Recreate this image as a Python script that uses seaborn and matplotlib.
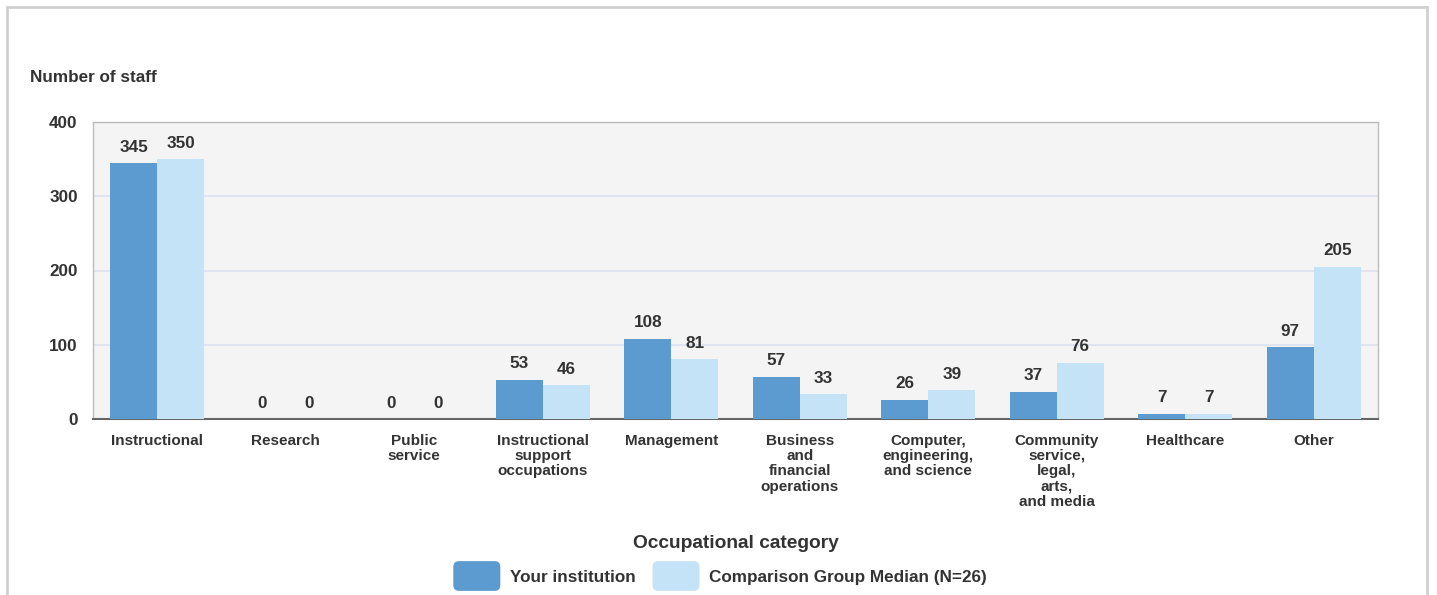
import pandas as pd
import matplotlib.pyplot as plt
import seaborn as sns
from matplotlib.patches import Rectangle, FancyBboxPatch
from matplotlib.legend_handler import HandlerPatch

categories = ["Instructional", "Research", "Public\nservice",
              "Instructional\nsupport\noccupations", "Management",
              "Business\nand\nfinancial\noperations",
              "Computer,\nengineering,\nand science",
              "Community\nservice,\nlegal,\narts,\nand media",
              "Healthcare", "Other"]
your_institution = [345, 0, 0, 53, 108, 57, 26, 37, 7, 97]
comparison_median = [350, 0, 0, 46, 81, 33, 39, 76, 7, 205]
series_names = ["Your institution", "Comparison Group Median (N=26)"]
y_ticks = [0, 100, 200, 300, 400]

dark = "#5b9bd0"
light = "#c5e3f6"
txt = "#333333"

df = pd.DataFrame({
    "category": categories * 2,
    "value": your_institution + comparison_median,
    "series": [series_names[0]] * len(categories) + [series_names[1]] * len(categories),
})

sns.set_style("white")
plt.rcParams["font.family"] = ["Liberation Sans", "DejaVu Sans"]
plt.rcParams["font.weight"] = "bold"

fig = plt.figure(figsize=(14.37, 5.95), dpi=100)
ax = fig.add_axes([93 / 1437, 1 - 419 / 595, (1378 - 93) / 1437, (419 - 122) / 595])
ax.set_facecolor("#f4f4f4")

sns.barplot(data=df, x="category", y="value", hue="series", order=categories,
            hue_order=series_names, palette=[dark, light], width=0.73,
            saturation=1, linewidth=0, ax=ax, legend=False, zorder=3)

for cont in ax.containers:
    ax.bar_label(cont, padding=6, fontsize=12.3, fontweight="bold", color=txt)

ax.set_ylim(0, 400)
ax.set_xlim(-0.5, len(categories) - 0.5)
ax.set_yticks(y_ticks)
ax.tick_params(axis="y", length=0, pad=11, labelsize=12.3, labelcolor=txt)
for lab in ax.get_yticklabels():
    lab.set_fontweight("bold")
ax.yaxis.grid(True, color="#dfe4f0", linewidth=1.5, zorder=0)
ax.set_axisbelow(True)

# category separators as major ticks, labels on minor ticks
ax.set_xticks([i - 0.5 for i in range(len(categories) + 1)])
ax.set_xticklabels([])
ax.set_xticks(range(len(categories)), minor=True)
ax.set_xticklabels(categories, minor=True, fontsize=11, fontweight="bold",
                   color=txt, linespacing=1.12, va="top")
ax.tick_params(axis="x", which="major", length=9, width=1.5, color="#666666", direction="out")
ax.tick_params(axis="x", which="minor", length=0, pad=10.5)

for s in ["left", "top", "right"]:
    ax.spines[s].set_color("#bbbbbb")
    ax.spines[s].set_linewidth(1)
ax.spines["bottom"].set_color("#666666")
ax.spines["bottom"].set_linewidth(1.5)
ax.set_xlabel("")
ax.set_ylabel("")

fig.text(30 / 1437, 1 - 77 / 595, "Number of staff", fontsize=12.3, fontweight="bold",
         color=txt, va="center", ha="left")
fig.text(735.5 / 1437, 1 - 544 / 595, "Occupational category", fontsize=13.8,
         fontweight="bold", color=txt, va="center", ha="center")

# outer frame
fig.patches.append(Rectangle((7 / 1437, -0.05), 1420 / 1437, 1.05 - 7 / 595,
                             transform=fig.transFigure, fill=False,
                             edgecolor="#d0d0d0", linewidth=2))


def rounded(legend, orig_handle, xdescent, ydescent, width, height, fontsize):
    return FancyBboxPatch((-xdescent, -ydescent), width, height,
                          boxstyle="round,pad=0,rounding_size=4")


handles = [Rectangle((0, 0), 1, 1, facecolor=dark, edgecolor="none"),
           Rectangle((0, 0), 1, 1, facecolor=light, edgecolor="none")]
fig.legend(handles, series_names, loc="center", bbox_to_anchor=(720 / 1437, 1 - 576 / 595),
           ncol=2, frameon=False, handlelength=2.75, handleheight=1.55,
           handletextpad=0.55, columnspacing=1.0,
           handler_map={Rectangle: HandlerPatch(
               patch_func=lambda legend, orig_handle, xdescent, ydescent, width, height, fontsize:
               FancyBboxPatch((-xdescent, -ydescent - 3), width, height + 6,
                              boxstyle="round,pad=0,rounding_size=4"))},
           labelcolor=txt, prop={"weight": "bold", "size": 12.3})

fig.savefig("out.png", dpi=100)
